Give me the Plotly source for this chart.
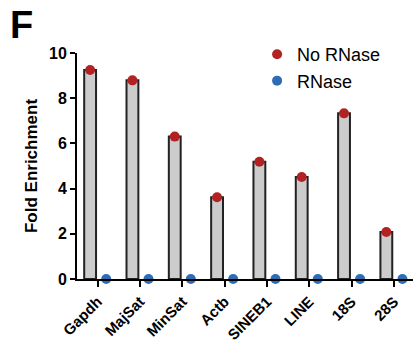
import plotly.graph_objects as go

categories = ["Gapdh", "MajSat", "MinSat", "Actb", "SINEB1", "LINE", "18S", "28S"]
no_rnase = [9.25, 8.79, 6.30, 3.62, 5.19, 4.51, 7.33, 2.08]
rnase = [0, 0, 0, 0, 0, 0, 0, 0]

FONT = "Arial, Liberation Sans, sans-serif"
idx = list(range(len(categories)))
bar_off = -0.18
dot_off = 0.20

fig = go.Figure()
fig.add_trace(go.Bar(
    x=[i + bar_off for i in idx], y=no_rnase, width=0.28,
    marker=dict(color="#CCCCCC", line=dict(color="#222222", width=2)),
    showlegend=False, hoverinfo="skip"))
fig.add_trace(go.Scatter(
    x=[i + bar_off for i in idx], y=no_rnase, mode="markers", name="No RNase",
    marker=dict(color="#B22222", size=10), cliponaxis=False))
fig.add_trace(go.Scatter(
    x=[i + dot_off for i in idx], y=rnase, mode="markers", name="RNase",
    marker=dict(color="#2E6DB4", size=10), cliponaxis=False))

fig.update_layout(
    width=413, height=343,
    margin=dict(l=77, r=0, t=53, b=64, autoexpand=False),
    paper_bgcolor="white", plot_bgcolor="white",
    font=dict(family=FONT, color="black"),
    legend=dict(x=0.536, y=1.075, xanchor="left", yanchor="top",
                font=dict(size=18, family=FONT), bgcolor="rgba(0,0,0,0)"),
    xaxis=dict(
        range=[-0.49, 7.45], tickmode="array", tickvals=idx, ticktext=categories,
        tickangle=-45, showgrid=False, zeroline=False, automargin=False,
        showline=True, linecolor="black", linewidth=2,
        ticks="outside", ticklen=6, tickwidth=2, tickcolor="black",
        tickfont=dict(size=15, family=FONT, weight="bold")),
    yaxis=dict(
        range=[0, 10], tickvals=[0, 2, 4, 6, 8, 10], showgrid=False, zeroline=False,
        automargin=False,
        showline=True, linecolor="black", linewidth=2,
        ticks="outside", ticklen=5, tickwidth=2, tickcolor="black",
        tickfont=dict(size=16, family=FONT, weight="bold"),
        title=dict(text="Fold Enrichment", standoff=7,
                   font=dict(size=17, family=FONT, weight="bold"))),
    annotations=[dict(text="<b>F</b>", x=(8 - 77) / 336, y=1 + (53 - 2) / 226,
                      xref="paper", yref="paper",
                      showarrow=False, font=dict(size=38, family=FONT, color="black"),
                      xanchor="left", yanchor="top")],
)

fig.write_html("out.html", config={"displayModeBar": False},
               post_script="document.body.style.margin='0';document.body.style.overflow='hidden';")
